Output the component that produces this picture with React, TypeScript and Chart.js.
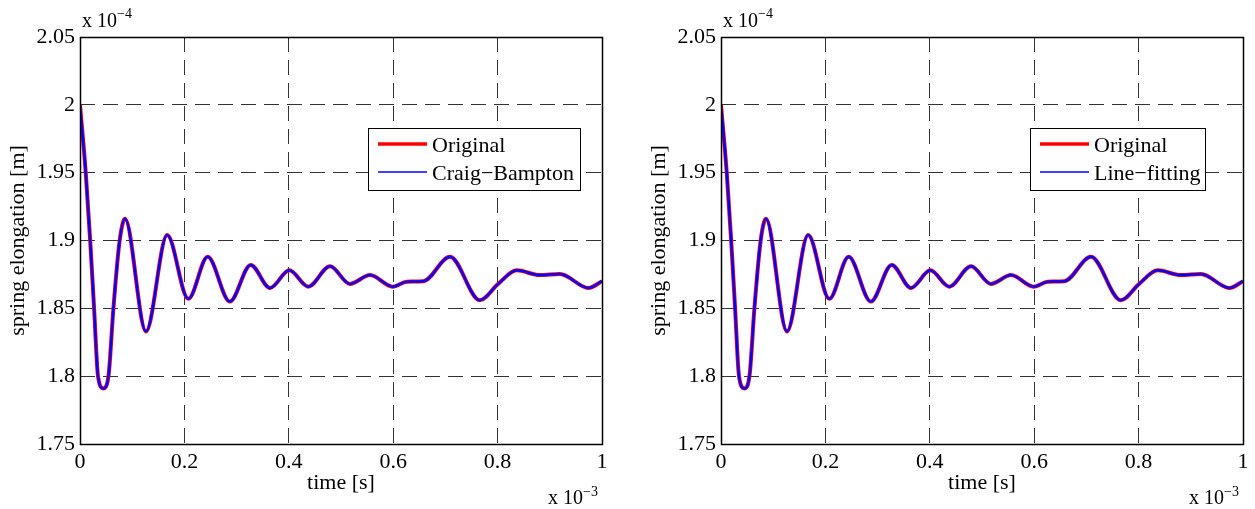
import React, { useEffect, useRef } from 'react';
import { Chart, registerables } from 'chart.js';

Chart.register(...registerables);

// time in units of 10^-3 s
const timeMs = [
  0, 0.011, 0.0195, 0.027, 0.0345, 0.0447, 0.0545, 0.064, 0.076, 0.0862,
  0.1264, 0.167, 0.2075, 0.2446, 0.287, 0.327, 0.364, 0.401, 0.4374, 0.479,
  0.517, 0.5556, 0.599, 0.626, 0.658, 0.7088, 0.766, 0.801, 0.8366, 0.881,
  0.9195, 0.974, 1.0,
];
// spring elongation in units of 10^-4 m
const originalValues = [
  2.0, 1.95, 1.9, 1.85, 1.8, 1.791, 1.8, 1.85, 1.9, 1.916,
  1.833, 1.904, 1.857, 1.888, 1.855, 1.882, 1.865, 1.878, 1.866, 1.881,
  1.868, 1.8745, 1.866, 1.8696, 1.87, 1.888, 1.856, 1.868, 1.878, 1.8745,
  1.8753, 1.865, 1.87,
];
const craigBamptonValues = [
  2.0, 1.95, 1.9, 1.85, 1.8, 1.791, 1.8, 1.85, 1.9, 1.916,
  1.833, 1.904, 1.857, 1.888, 1.855, 1.882, 1.865, 1.878, 1.866, 1.881,
  1.868, 1.8745, 1.866, 1.8696, 1.87, 1.888, 1.856, 1.868, 1.878, 1.8745,
  1.8753, 1.865, 1.87,
];
const lineFittingValues = [
  2.0, 1.95, 1.9, 1.85, 1.8, 1.791, 1.8, 1.85, 1.9, 1.916,
  1.833, 1.904, 1.857, 1.888, 1.855, 1.882, 1.865, 1.878, 1.866, 1.881,
  1.868, 1.8745, 1.866, 1.8696, 1.87, 1.888, 1.856, 1.868, 1.878, 1.8745,
  1.8753, 1.865, 1.87,
];

const xMin = 0;
const xMax = 1;
const xStep = 0.2;
const yMin = 1.75;
const yMax = 2.05;
const yStep = 0.05;

const xAxisTitle = 'time [s]';
const yAxisTitle = 'spring elongation [m]';
const xExponent = '\u22123';
const yExponent = '\u22124';

const FONT = '"Liberation Serif", "Times New Roman", serif';
const GRID_DASH = [15, 8];
const GRID_COLOR = '#333333';

const decorPlugin = {
  id: 'decor',
  afterDraw(chart: any, _args: any, opts: any) {
    const { ctx, chartArea: a } = chart;
    ctx.save();
    ctx.setLineDash([]);
    // box
    ctx.strokeStyle = '#000';
    ctx.lineWidth = 1.5;
    const l = Math.round(a.left) + 0.5;
    const t = Math.round(a.top) + 0.5;
    const r = Math.round(a.right) + 0.5;
    const b = Math.round(a.bottom) + 0.5;
    ctx.strokeRect(l, t, r - l, b - t);

    // legend
    const lg = opts.legend;
    ctx.fillStyle = '#fff';
    ctx.fillRect(lg.x, lg.y, lg.w, lg.h);
    ctx.lineWidth = 1;
    ctx.strokeStyle = '#000';
    ctx.strokeRect(lg.x + 0.5, lg.y + 0.5, lg.w, lg.h);
    const legendWidths = [3.3, 1.7];
    chart.data.datasets.forEach((ds: any, i: number) => {
      const yy = lg.y + 16 + i * 28;
      ctx.strokeStyle = ds.borderColor;
      ctx.lineWidth = legendWidths[i];
      ctx.beginPath();
      ctx.moveTo(lg.x + 10, yy);
      ctx.lineTo(lg.x + 59, yy);
      ctx.stroke();
      ctx.fillStyle = '#000';
      ctx.font = `22px ${FONT}`;
      ctx.textAlign = 'left';
      ctx.textBaseline = 'alphabetic';
      ctx.fillText(ds.label, lg.x + 64, yy + 8);
    });

    // exponent labels
    ctx.fillStyle = '#000';
    ctx.textAlign = 'left';
    ctx.textBaseline = 'alphabetic';
    ctx.font = `20px ${FONT}`;
    ctx.fillText('x 10', a.left + 2, 27);
    let w = ctx.measureText('x 10').width;
    ctx.font = `14px ${FONT}`;
    ctx.fillText(yExponent, a.left + 2 + w, 18);

    ctx.font = `20px ${FONT}`;
    ctx.fillText('x 10', a.right - 54, 504);
    w = ctx.measureText('x 10').width;
    ctx.font = `14px ${FONT}`;
    ctx.fillText(xExponent, a.right - 54 + w, 496);
    ctx.restore();
  },
};

function fmt(v: number) {
  return String(Number(v.toFixed(2)));
}

function gridOpts() {
  return {
    drawTicks: false,
    color: GRID_COLOR,
    lineWidth: 1,
    borderDash: GRID_DASH,
    tickBorderDash: GRID_DASH,
  };
}

function makeConfig(approxLabel: string, approxValues: number[], legend: any, rightPad: number) {
  return {
    type: 'line',
    data: {
      datasets: [
        {
          label: 'Original',
          data: timeMs.map((t, i) => ({ x: t, y: originalValues[i] })),
          borderColor: '#ff0000',
          borderWidth: 4,
          pointRadius: 0,
          cubicInterpolationMode: 'monotone',
          fill: false,
          order: 2,
        },
        {
          label: approxLabel,
          data: timeMs.map((t, i) => ({ x: t, y: approxValues[i] })),
          borderColor: '#0000ff',
          borderWidth: 2.5,
          pointRadius: 0,
          cubicInterpolationMode: 'monotone',
          fill: false,
          order: 1,
        },
      ],
    },
    options: {
      animation: false,
      responsive: false,
      devicePixelRatio: 1,
      layout: { padding: { top: 37, right: rightPad, bottom: 0, left: 0 } },
      plugins: {
        legend: { display: false },
        tooltip: { enabled: false },
        decor: { legend },
      },
      scales: {
        x: {
          type: 'linear',
          min: xMin,
          max: xMax,
          afterFit(scale: any) {
            scale.height = 65;
          },
          ticks: {
            stepSize: xStep,
            padding: 5,
            color: '#000',
            font: { family: FONT, size: 22 },
            maxRotation: 0,
            callback: (v: number) => fmt(v),
          },
          grid: gridOpts(),
          border: { display: false, dash: GRID_DASH },
          title: {
            display: true,
            text: xAxisTitle,
            color: '#000',
            font: { family: FONT, size: 22 },
            padding: { top: 0, bottom: 13 },
          },
        },
        y: {
          type: 'linear',
          min: yMin,
          max: yMax,
          afterFit(scale: any) {
            scale.width = 80;
          },
          ticks: {
            stepSize: yStep,
            padding: 5,
            color: '#000',
            font: { family: FONT, size: 22 },
            callback: (v: number) => fmt(v),
          },
          grid: gridOpts(),
          border: { display: false, dash: GRID_DASH },
          title: {
            display: true,
            text: yAxisTitle,
            color: '#000',
            font: { family: FONT, size: 22 },
            padding: { top: 5, bottom: 0 },
          },
        },
      },
    },
    plugins: [decorPlugin],
  };
}

function Panel(props: { left: number; width: number; approxLabel: string; approxValues: number[]; legend: any; rightPad: number }) {
  const ref = useRef<HTMLCanvasElement | null>(null);
  useEffect(() => {
    if (!ref.current) return;
    const chart = new Chart(ref.current, makeConfig(props.approxLabel, props.approxValues, props.legend, props.rightPad) as any);
    return () => chart.destroy();
  }, []);
  return (
    <canvas
      ref={ref}
      width={props.width}
      height={509}
      style={{ position: 'absolute', left: props.left, top: 0, width: props.width, height: 509 }}
    />
  );
}

export default function App() {
  return (
    <div style={{ position: 'absolute', left: 0, top: 0, width: 1255, height: 509, background: '#fff', overflow: 'hidden' }}>
      <Panel left={0} width={627} approxLabel={'Craig\u2212Bampton'} approxValues={craigBamptonValues} legend={{ x: 368, y: 128, w: 212, h: 62 }} rightPad={25} />
      <Panel left={641} width={614} approxLabel={'Line\u2212fitting'} approxValues={lineFittingValues} legend={{ x: 389, y: 128, w: 175, h: 62 }} rightPad={12} />
    </div>
  );
}
